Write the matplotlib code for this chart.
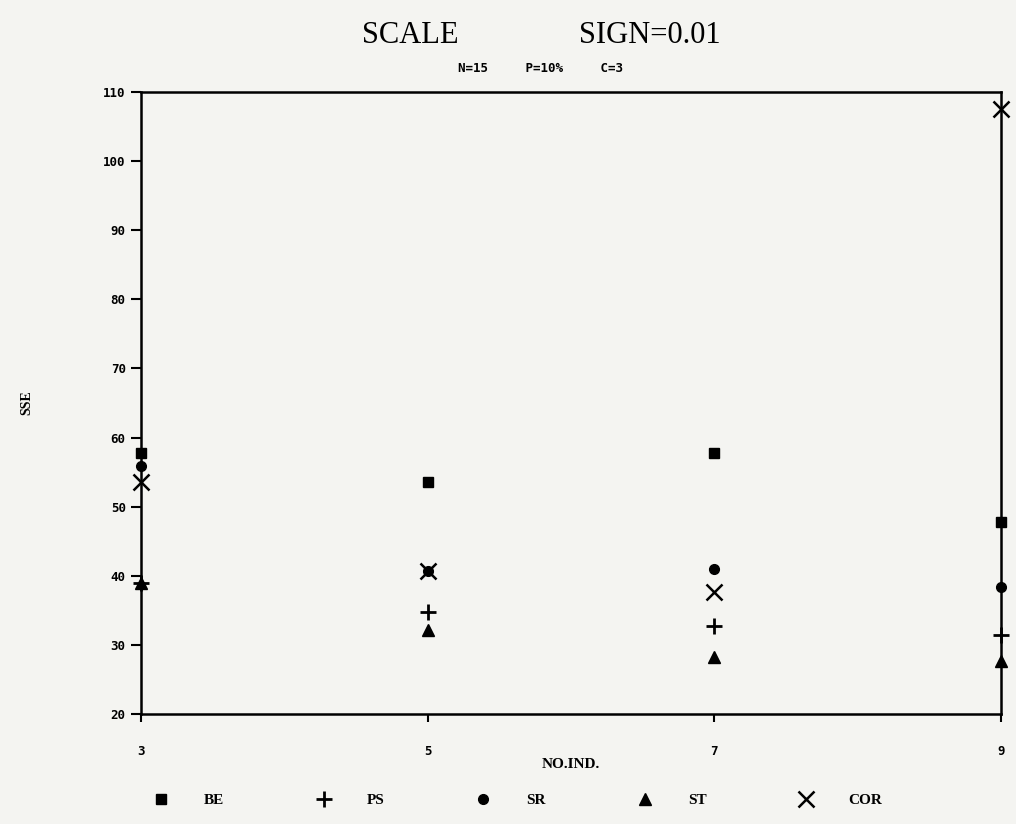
import matplotlib
matplotlib.use("Agg")
import matplotlib.pyplot as plt

# number of individuals on the x axis
no_ind = [3, 5, 7, 9]

# SSE per method
be = [57.8, 53.6, 57.8, 47.8]
ps = [39.0, 34.8, 32.7, 31.5]
sr = [55.9, 40.7, 41.0, 38.4]
st = [39.0, 32.2, 28.2, 27.6]
cor = [53.6, 40.7, 37.7, 107.6]

y_ticks = [20, 30, 40, 50, 60, 70, 80, 90, 100, 110]

bg = "#f4f4f1"
fig = plt.figure(figsize=(10.16, 8.24), dpi=100, facecolor=bg)
ax = fig.add_axes([0.1388, 0.1335, 0.9852 - 0.1388, 0.8883 - 0.1335])
ax.set_facecolor(bg)

ax.plot(no_ind, be, 's', color='black', markersize=7, clip_on=False, label='BE')
ax.plot(no_ind, ps, '+', color='black', markersize=12, markeredgewidth=2, clip_on=False, label='PS')
ax.plot(no_ind, sr, 'o', color='black', markersize=7, clip_on=False, label='SR')
ax.plot(no_ind, st, '^', color='black', markersize=9, clip_on=False, label='ST')
ax.plot(no_ind, cor, 'x', color='black', markersize=12, markeredgewidth=1.8, clip_on=False, label='COR')

ax.set_xlim(3, 9)
ax.set_ylim(20, 110)
ax.set_xticks(no_ind)
ax.set_yticks(y_ticks)

tick_font = dict(family='DejaVu Sans Mono', weight='bold', size=9)
ax.set_xticklabels([str(v) for v in no_ind], **tick_font)
ax.set_yticklabels([str(v) for v in y_ticks], **tick_font)
ax.tick_params(axis='y', direction='out', length=7, width=1.5, pad=4)
ax.tick_params(axis='x', direction='out', length=6, width=1.5, pad=16)

for s in ax.spines.values():
    s.set_linewidth(1.8)

ax.set_xlabel("NO.IND.", fontfamily='Liberation Serif', fontweight='bold', fontsize=11, labelpad=0)
ax.set_ylabel("SSE", fontfamily='Liberation Serif', fontweight='bold', fontsize=10)
ax.yaxis.set_label_coords(-0.125, 0.5)

fig.text(0.404, 0.957, "SCALE", ha='center', va='center',
         fontfamily='Liberation Serif', fontsize=22)
fig.text(0.64, 0.957, "SIGN=0.01", ha='center', va='center',
         fontfamily='Liberation Serif', fontsize=22)
fig.text(0.532, 0.917, "N=15     P=10%     C=3", ha='center', va='center',
         fontfamily='DejaVu Sans Mono', fontweight='bold', fontsize=9)

fig.legend(loc='center', bbox_to_anchor=(0.506, 0.029), ncol=5, frameon=False,
           handletextpad=1.8, columnspacing=5.5, numpoints=1,
           prop=dict(family='Liberation Serif', weight='bold', size=11))

fig.savefig("out.png", dpi=100, facecolor=bg)
